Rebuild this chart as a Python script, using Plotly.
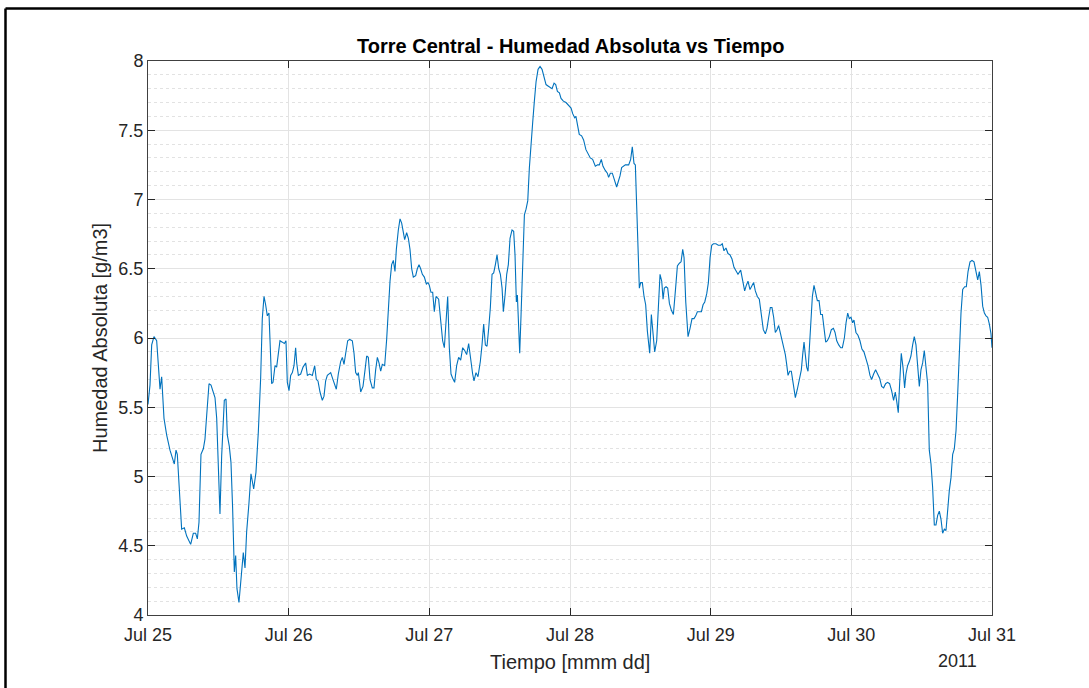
import pandas as pd
import plotly.graph_objects as go

# Hours since 2011-07-25 00:00 and absolute humidity (g/m3)
hours = [
    0.00, 0.34, 0.63, 1.02, 1.48, 1.88, 2.05, 2.33, 2.73, 3.18, 3.75, 4.49, 4.78, 5.00, 5.35, 5.74,
    6.20, 6.60, 7.28, 7.73, 8.13, 8.42, 8.70, 9.04, 9.44, 9.72, 10.01, 10.41, 10.75, 11.15, 11.43,
    11.72, 12.00, 12.28, 12.57, 12.85, 13.02, 13.31, 13.53, 13.87, 14.16, 14.44, 14.73, 14.96, 15.18,
    15.52, 15.87, 16.26, 16.55, 16.83, 17.23, 17.57, 18.03, 18.42, 18.82, 19.22, 19.50, 19.79, 20.07,
    20.36, 20.64, 20.87, 21.10, 21.33, 21.67, 21.95, 22.23, 22.52, 22.92, 23.26, 23.54, 23.77, 24.06,
    24.34, 24.63, 24.91, 25.19, 25.37, 25.65, 26.05, 26.45, 26.90, 27.19, 27.58, 28.04, 28.44, 28.72,
    29.00, 29.35, 29.74, 30.03, 30.31, 30.60, 31.17, 31.56, 32.13, 32.47, 32.87, 33.16, 33.44, 33.73,
    34.07, 34.41, 34.86, 35.15, 35.43, 35.72, 35.89, 36.29, 36.68, 37.03, 37.31, 37.59, 37.88, 38.27,
    38.56, 38.84, 39.13, 39.41, 39.70, 39.98, 40.38, 40.72, 41.01, 41.29, 41.57, 41.86, 42.14, 42.37,
    42.71, 43.00, 43.28, 43.51, 43.79, 44.13, 44.42, 44.70, 44.99, 45.27, 45.67, 45.95, 46.24, 46.52,
    46.81, 47.15, 47.49, 47.77,
    48.00, 48.28, 48.57, 48.85, 49.14, 49.59, 49.99, 50.27, 50.56, 50.84, 51.13, 51.41, 51.70, 51.98,
    52.32, 52.66, 53.00, 53.35, 53.69, 54.03, 54.37, 54.71, 55.05, 55.39, 55.62, 55.96, 56.30, 56.70,
    56.99, 57.27, 57.56, 57.84, 58.13, 58.41, 58.70, 58.98, 59.27, 59.55, 59.84, 60.12, 60.41, 60.63,
    60.92, 61.20, 61.48, 61.77, 62.11, 62.39, 62.62, 62.85, 63.02, 63.25, 63.42, 63.65, 63.93, 64.22,
    64.50, 64.79, 65.07, 65.35, 65.64, 65.92, 66.21, 66.55, 66.89, 67.23, 67.57, 67.91, 68.25, 68.60,
    68.94, 69.28, 69.56, 69.85, 70.19, 70.47, 70.87, 71.32, 71.78, 72.18, 72.46, 72.80,
    73.01, 73.30, 73.58, 73.98, 74.32, 74.72, 75.12, 75.46, 75.86, 76.32, 76.71, 77.00, 77.34, 77.63,
    78.02, 78.37, 78.59, 78.88, 79.22, 79.56, 79.96, 80.24, 80.53, 80.81, 81.10, 81.44, 81.72, 82.01,
    82.35, 82.63, 82.92, 83.15, 83.37, 83.60, 83.83, 84.06, 84.34, 84.63, 84.91, 85.20, 85.60, 85.88,
    86.17, 86.45, 86.79, 87.08, 87.36, 87.65, 87.88, 88.10, 88.39, 88.67, 88.96, 89.30, 89.64, 89.98,
    90.32, 90.66, 90.95, 91.23, 91.46, 91.75, 92.14, 92.48, 92.82, 93.16, 93.45, 93.73, 94.08, 94.42,
    94.70, 94.99, 95.33, 95.61, 95.90,
    96.18, 96.47, 96.90, 97.30, 97.70, 97.98, 98.27, 98.61, 98.95, 99.30, 99.64, 99.98, 100.32, 100.66,
    101.12, 101.46, 101.80, 102.08, 102.37, 102.71, 103.05, 103.33, 103.62, 103.96, 104.30, 104.64,
    104.98, 105.33, 105.61, 105.90, 106.18, 106.46, 106.75, 107.03, 107.32, 107.60, 107.89, 108.17,
    108.46, 108.74, 108.97, 109.20, 109.48, 109.76, 110.05, 110.45, 110.79, 111.13, 111.47, 111.70,
    111.93, 112.15, 112.38, 112.61, 112.84, 113.06, 113.35, 113.63, 113.92, 114.20, 114.49, 114.77,
    115.06, 115.34, 115.63, 115.91, 116.25, 116.59, 116.94, 117.22, 117.51, 117.85, 118.19, 118.47,
    118.81, 119.10, 119.38, 119.65, 119.94,
    120.22, 120.45, 120.79, 121.13, 121.47, 121.81, 122.15, 122.49, 122.84, 123.18, 123.46, 123.80,
    124.14, 124.48, 124.83, 125.17, 125.51, 125.85, 126.19, 126.53, 126.87, 127.21, 127.50, 127.72,
    128.01, 128.24, 128.52, 128.81, 129.09, 129.32, 129.60, 129.89, 130.17, 130.46, 130.74, 131.03,
    131.31, 131.60, 131.88, 132.17, 132.45, 132.74, 133.02, 133.30, 133.59, 133.87, 134.16, 134.44,
    134.73, 135.01, 135.30, 135.58, 135.87, 136.15, 136.43, 136.72, 137.00, 137.29, 137.57, 137.86,
    138.14, 138.43, 138.71, 139.00, 139.34, 139.62, 139.91, 140.25, 140.59, 140.93, 141.27, 141.56,
    141.84, 142.13, 142.41, 142.70, 142.98, 143.26, 143.55, 143.83, 144.00,
]
humidity = [
    5.52, 5.66, 5.95, 6.01, 5.98, 5.72, 5.63, 5.72, 5.42, 5.30, 5.19, 5.09, 5.19, 5.16, 4.93, 4.62,
    4.63, 4.57, 4.51, 4.59, 4.59, 4.55, 4.67, 5.16, 5.20, 5.27, 5.44, 5.67, 5.66, 5.61, 5.57,
    5.42, 5.01, 4.73, 5.15, 5.47, 5.55, 5.56, 5.30, 5.22, 5.10, 4.77, 4.31, 4.43, 4.19,
    4.09, 4.24, 4.45, 4.34, 4.60, 4.81, 5.02, 4.91, 5.03, 5.32, 5.71, 6.14, 6.30, 6.24,
    6.16, 6.18, 5.90, 5.67, 5.68, 5.80, 5.79, 5.90, 5.98, 5.97, 5.96, 5.98, 5.68, 5.62,
    5.73, 5.75, 5.80, 5.93, 5.82, 5.73, 5.74, 5.79, 5.82, 5.73, 5.74, 5.73, 5.80, 5.70,
    5.69, 5.61, 5.55, 5.58, 5.69, 5.73, 5.75, 5.70, 5.63, 5.74, 5.83, 5.86, 5.81, 5.89,
    5.98, 5.99, 5.98, 5.89, 5.75, 5.73, 5.75, 5.61, 5.65, 5.77, 5.87, 5.86, 5.70, 5.64,
    5.64, 5.77, 5.86, 5.82, 5.76, 5.81, 5.80, 5.99, 6.23, 6.41, 6.53, 6.56, 6.48, 6.64,
    6.78, 6.86, 6.83, 6.77, 6.71, 6.76, 6.72, 6.64, 6.50, 6.44, 6.45, 6.50, 6.53, 6.50,
    6.46, 6.44, 6.39, 6.40,
    6.38, 6.33, 6.33, 6.19, 6.30, 6.28, 6.12, 5.98, 5.93, 6.12, 6.30, 5.93, 5.74, 5.71,
    5.68, 5.80, 5.86, 5.84, 5.93, 5.91, 5.88, 5.96, 5.83, 5.74, 5.69, 5.75, 5.72, 5.83,
    5.95, 6.10, 5.95, 5.94, 6.07, 6.22, 6.46, 6.47, 6.53, 6.60, 6.50, 6.46, 6.36, 6.19,
    6.31, 6.46, 6.53, 6.72, 6.78, 6.77, 6.60, 6.26, 6.31, 6.00, 5.89, 6.17, 6.60, 6.89,
    6.93, 6.99, 7.23, 7.42, 7.56, 7.71, 7.85, 7.94, 7.96, 7.94, 7.88, 7.83, 7.82, 7.81,
    7.80, 7.84, 7.83, 7.78, 7.77, 7.73, 7.71, 7.70, 7.68, 7.66, 7.62, 7.59,
    7.60, 7.54, 7.47, 7.46, 7.43, 7.36, 7.33, 7.30, 7.29, 7.24, 7.25, 7.25, 7.29, 7.24,
    7.21, 7.19, 7.16, 7.19, 7.19, 7.14, 7.09, 7.13, 7.17, 7.23, 7.24, 7.25, 7.25, 7.25,
    7.29, 7.38, 7.26, 7.25, 6.96, 6.65, 6.36, 6.40, 6.40, 6.30, 6.24, 6.05, 5.89, 6.17,
    6.02, 5.90, 5.98, 6.26, 6.46, 6.41, 6.28, 6.36, 6.37, 6.36, 6.25, 6.20, 6.17, 6.34,
    6.52, 6.54, 6.55, 6.64, 6.58, 6.26, 6.01, 6.07, 6.14, 6.14, 6.16, 6.19, 6.19, 6.19,
    6.24, 6.26, 6.32, 6.40, 6.58,
    6.67, 6.68, 6.68, 6.67, 6.67, 6.68, 6.63, 6.65, 6.61, 6.60, 6.57, 6.51, 6.48, 6.46,
    6.49, 6.41, 6.34, 6.38, 6.41, 6.35, 6.38, 6.40, 6.34, 6.30, 6.28, 6.17,
    6.06, 6.03, 6.07, 6.15, 6.22, 6.22, 6.15, 6.04, 6.06, 6.09, 6.04, 6.00,
    5.93, 5.88, 5.81, 5.73, 5.76, 5.76, 5.68, 5.57, 5.63, 5.69, 5.77, 5.88,
    5.97, 5.88, 5.79, 5.76, 5.92, 6.12, 6.30, 6.38, 6.32, 6.27, 6.27, 6.17,
    6.17, 6.05, 5.97, 5.98, 6.01, 6.06, 6.07, 6.04, 5.98, 5.95, 5.93, 5.93,
    6.00, 6.11, 6.18, 6.14, 6.15,
    6.11, 6.13, 6.04, 6.02, 5.98, 5.92, 5.90, 5.85, 5.80, 5.73, 5.70, 5.74,
    5.77, 5.74, 5.71, 5.65, 5.64, 5.67, 5.68, 5.67, 5.62, 5.55, 5.61, 5.55,
    5.46, 5.67, 5.89, 5.79, 5.64, 5.74, 5.80, 5.83, 5.87, 5.95, 6.01, 5.95,
    5.79, 5.65, 5.77, 5.82, 5.91, 5.81, 5.67, 5.19, 5.09, 4.92, 4.65, 4.65,
    4.72, 4.75, 4.69, 4.59, 4.62, 4.61, 4.78, 4.90, 4.99, 5.16, 5.20, 5.33,
    5.59, 5.91, 6.18, 6.35, 6.37, 6.37, 6.48, 6.55, 6.56, 6.55, 6.47, 6.42,
    6.48, 6.38, 6.23, 6.18, 6.16, 6.15, 6.10, 6.03, 5.93,
]

y_ticks = [4, 4.5, 5, 5.5, 6, 6.5, 7, 7.5, 8]
y_tick_labels = ["4", "4.5", "5", "5.5", "6", "6.5", "7", "7.5", "8"]

title_text = "Torre Central - Humedad Absoluta vs Tiempo"
x_label = "Tiempo [mmm dd]"
y_label = "Humedad Absoluta [g/m3]"
year_label = "2011"

t0 = pd.Timestamp("2011-07-25")
times = [t0 + pd.Timedelta(hours=h) for h in hours]

FONT = "Liberation Sans, Arial, Helvetica, sans-serif"
AX = "#262626"

fig = go.Figure()
fig.add_trace(go.Scatter(x=times, y=humidity, mode="lines",
                         line=dict(color="#0072BD", width=1.1), showlegend=False))

fig.update_layout(
    width=1089, height=688,
    margin=dict(l=148, r=97, t=61, b=73),
    paper_bgcolor="white", plot_bgcolor="white",
    font=dict(family=FONT, size=18, color=AX),
    xaxis=dict(
        range=[t0, t0 + pd.Timedelta(days=6)],
        tick0=t0, dtick=86400000, tickformat="%b %d",
        ticks="inside", ticklen=7, tickcolor=AX, tickwidth=1,
        showline=True, linecolor="#404040", linewidth=1, mirror="ticks",
        showgrid=True, gridcolor="#e3e3e3", gridwidth=1,
        zeroline=False, tickfont=dict(size=18, color=AX),
        ticklabelstandoff=3,
    ),
    yaxis=dict(
        range=[4, 8], tickvals=y_ticks, ticktext=y_tick_labels,
        ticks="inside", ticklen=7, tickcolor=AX, tickwidth=1,
        showline=True, linecolor="#404040", linewidth=1, mirror="ticks",
        showgrid=True, gridcolor="#e3e3e3", gridwidth=1,
        zeroline=False, tickfont=dict(size=18, color=AX),
        minor=dict(dtick=0.1, tick0=4, showgrid=True, gridcolor="#e2e2e2",
                   griddash="dot", gridwidth=1, ticks=""),
    ),
)

fig.add_annotation(text="<b>" + title_text + "</b>", xref="paper", yref="paper",
                   x=0.5, y=(615 - 46) / 554, xanchor="center", yanchor="middle",
                   showarrow=False, font=dict(family=FONT, size=20, color="black"))
fig.add_annotation(text=x_label, xref="paper", yref="paper",
                   x=0.5, y=(615 - 662) / 554, xanchor="center", yanchor="middle",
                   showarrow=False, font=dict(family=FONT, size=20, color=AX))
fig.add_annotation(text=y_label, xref="paper", yref="paper",
                   x=(100 - 148) / 844, y=(615 - 338) / 554, xanchor="center", yanchor="middle",
                   textangle=-90, showarrow=False, font=dict(family=FONT, size=20, color=AX))
fig.add_annotation(text=year_label, xref="paper", yref="paper",
                   x=(957 - 148) / 844, y=(615 - 661) / 554, xanchor="center", yanchor="middle",
                   showarrow=False, font=dict(family=FONT, size=18, color=AX))

# figure frame (left and top edges)
bx = (5.5 - 148) / 844
by = (615 - 8.5) / 554
fig.add_shape(type="line", xref="paper", yref="paper", x0=bx, x1=bx, y0=-0.3, y1=by,
              line=dict(color="black", width=2.5))
fig.add_shape(type="line", xref="paper", yref="paper", x0=bx, x1=1.3, y0=by, y1=by,
              line=dict(color="black", width=2.5))

fig.write_html("out.html")
